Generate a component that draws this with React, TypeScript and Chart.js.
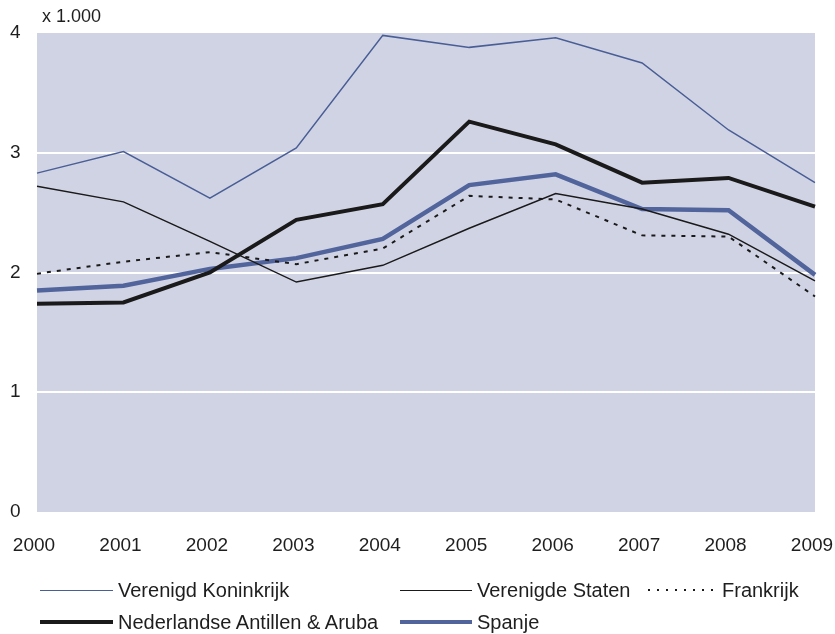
import React, { useEffect, useRef } from "react";
import { Chart, registerables } from "chart.js";

Chart.register(...registerables);

const years = ["2000", "2001", "2002", "2003", "2004", "2005", "2006", "2007", "2008", "2009"];
const verenigdKoninkrijk = [2.83, 3.01, 2.62, 3.04, 3.98, 3.88, 3.96, 3.75, 3.19, 2.75];
const verenigdeStaten = [2.72, 2.59, 2.26, 1.92, 2.06, 2.37, 2.66, 2.53, 2.32, 1.93];
const frankrijk = [1.99, 2.09, 2.17, 2.07, 2.2, 2.64, 2.61, 2.31, 2.3, 1.8];
const antillenAruba = [1.74, 1.75, 2.0, 2.44, 2.57, 3.26, 3.07, 2.75, 2.79, 2.55];
const spanje = [1.85, 1.89, 2.03, 2.12, 2.28, 2.73, 2.82, 2.53, 2.52, 1.98];
const yTicks = [0, 1, 2, 3, 4];
const unitLabel = "x 1.000";

const FONT = "'Liberation Sans', Arial, sans-serif";
const BLUE_THIN = "#4a5e96";
const BLUE_THICK = "#52649c";
const BLACK = "#1a1a1a";
const BG = "#d0d3e4";
const TEXT = "#1e1e1e";

const legendItems = [
  { label: "Verenigd Koninkrijk", color: BLUE_THIN, width: 1.5, dash: false, x: 40, w: 73, row: 0 },
  { label: "Verenigde Staten", color: BLACK, width: 1.5, dash: false, x: 400, w: 72, row: 0 },
  { label: "Frankrijk", color: BLACK, width: 2, dash: true, x: 648, w: 69, row: 0 },
  { label: "Nederlandse Antillen & Aruba", color: BLACK, width: 4, dash: false, x: 40, w: 73, row: 1 },
  { label: "Spanje", color: BLUE_THICK, width: 4.5, dash: false, x: 400, w: 72, row: 1 },
];

export default function App() {
  const ref = useRef<HTMLCanvasElement | null>(null);

  useEffect(() => {
    if (!ref.current) return;
    const bgPlugin = {
      id: "bgPlugin",
      beforeDraw(chart: any) {
        const { ctx, chartArea } = chart;
        ctx.save();
        ctx.fillStyle = BG;
        ctx.fillRect(chartArea.left, chartArea.top, chartArea.right - chartArea.left, chartArea.bottom - chartArea.top);
        ctx.restore();
      },
      afterDraw(chart: any) {
        const { ctx } = chart;
        ctx.save();
        ctx.fillStyle = TEXT;
        ctx.font = "18px " + FONT;
        ctx.textBaseline = "middle";
        ctx.textAlign = "left";
        ctx.fillText(unitLabel, 42, 17);
        ctx.restore();
      },
    };
    const chart = new Chart(ref.current, {
      type: "line",
      data: {
        labels: years,
        datasets: [
          { label: "Verenigd Koninkrijk", data: verenigdKoninkrijk, borderColor: BLUE_THIN, borderWidth: 1.5 },
          { label: "Verenigde Staten", data: verenigdeStaten, borderColor: BLACK, borderWidth: 1.5 },
          { label: "Frankrijk", data: frankrijk, borderColor: BLACK, borderWidth: 2, borderDash: [4, 6] },
          { label: "Nederlandse Antillen & Aruba", data: antillenAruba, borderColor: BLACK, borderWidth: 4 },
          { label: "Spanje", data: spanje, borderColor: BLUE_THICK, borderWidth: 4.5 },
        ].map((d) => ({ ...d, pointRadius: 0, tension: 0, fill: false, borderJoinStyle: "miter" as const })),
      },
      options: {
        animation: false,
        responsive: false,
        layout: { padding: { left: 10, top: 33, right: 20, bottom: 62 } },
        plugins: { legend: { display: false }, tooltip: { enabled: false } },
        scales: {
          x: {
            offset: false,
            grid: { display: false, drawTicks: false },
            border: { display: false },
            ticks: { color: TEXT, font: { family: FONT, size: 19 }, padding: 22, labelOffset: -3, maxRotation: 0, autoSkip: false },
            afterFit: (s: any) => {
              s.height = 60;
              s.paddingLeft = 0;
              s.paddingRight = 0;
            },
          },
          y: {
            min: 0,
            max: 4,
            afterBuildTicks: (s: any) => { s.ticks = yTicks.map((v) => ({ value: v })); },
            grid: {
              color: (c: any) => (c.tick && (c.tick.value === 0 || c.tick.value === 4) ? "rgba(0,0,0,0)" : "#ffffff"),
              lineWidth: 2,
              drawTicks: false,
            },
            border: { display: false },
            ticks: { color: TEXT, font: { family: FONT, size: 19 }, padding: 0, crossAlign: "far" },
            afterFit: (s: any) => {
              s.width = 27;
              s.paddingTop = 0;
              s.paddingBottom = 0;
            },
          },
        },
      },
      plugins: [bgPlugin],
    });
    return () => chart.destroy();
  }, []);

  return (
    <div style={{ position: "fixed", left: 0, top: 0, width: 835, height: 634, background: "#fff" }}>
      <canvas ref={ref} width={835} height={634} style={{ display: "block", width: 835, height: 634 }} />
      {legendItems.map((it) => (
        <div
          key={it.label}
          style={{
            position: "absolute",
            left: it.x,
            top: 590 + it.row * 32 - 14,
            height: 28,
            display: "flex",
            alignItems: "center",
            fontFamily: FONT,
            fontSize: 20,
            color: TEXT,
            whiteSpace: "nowrap",
          }}
        >
          <span
            style={
              it.dash
                ? {
                    display: "inline-block",
                    width: it.w,
                    height: it.width,
                    backgroundImage: `repeating-linear-gradient(to right, ${it.color} 0px, ${it.color} 2px, transparent 2px, transparent 9px)`,
                    marginRight: 5,
                  }
                : {
                    display: "inline-block",
                    width: it.w,
                    height: 0,
                    borderTop: `${it.width}px solid ${it.color}`,
                    marginRight: 5,
                  }
            }
          />
          <span>{it.label}</span>
        </div>
      ))}
    </div>
  );
}
